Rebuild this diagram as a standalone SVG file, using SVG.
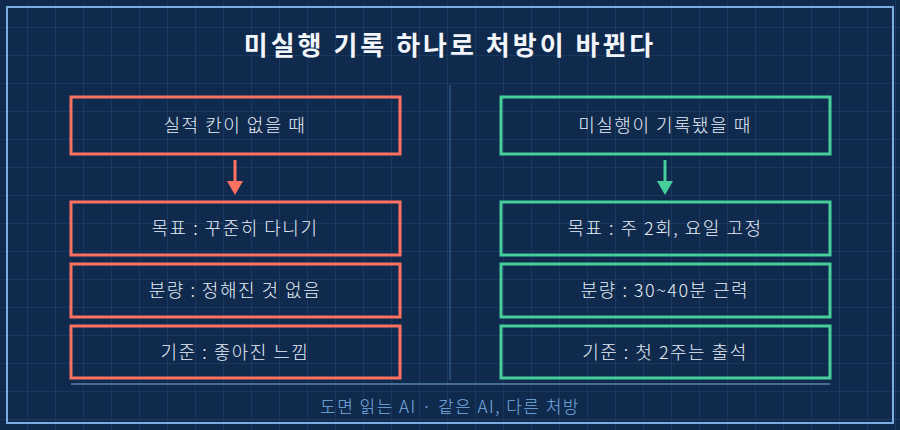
<svg xmlns="http://www.w3.org/2000/svg" width="900" height="430" viewBox="0 0 900 430">
<defs>
<pattern id="grid" width="28" height="28" patternUnits="userSpaceOnUse"><path d="M28 0V28M0 28H28" fill="none" stroke="#24446f" stroke-width="1"/></pattern>
<style>
text{font-family:"Noto Sans CJK KR","Noto Sans",sans-serif;text-anchor:middle}
.t{fill:#e8eef8;font-size:18px;font-weight:300;letter-spacing:1.5px}
.l{fill:none;stroke:#ff7262;stroke-width:3}
.r{fill:none;stroke:#46cf9b;stroke-width:3}
</style>
</defs>
<rect width="900" height="430" fill="#0f2a4d"/>
<rect width="900" height="430" fill="url(#grid)"/>
<rect x="7" y="7" width="886" height="416" fill="none" stroke="#7aaee0" stroke-width="2"/>
<text x="450" y="55" fill="#f2f5fa" font-size="26" font-weight="bold" letter-spacing="3">미실행 기록 하나로 처방이 바뀐다</text>
<line x1="450" y1="85" x2="450" y2="380" stroke="#2f5384" stroke-width="1.5"/>
<g id="connectors">
<line x1="235" y1="160" x2="235" y2="184" stroke="#ff7262" stroke-width="3"/><path d="M227 181H243L235 195Z" fill="#ff7262"/>
<line x1="665" y1="160" x2="665" y2="184" stroke="#46cf9b" stroke-width="3"/><path d="M657 181H673L665 195Z" fill="#46cf9b"/>
</g>
<g id="l1"><rect class="l" x="71" y="97" width="329" height="57"/><text class="t" x="235" y="132">실적 칸이 없을 때</text></g>
<g id="l2"><rect class="l" x="71" y="202" width="329" height="53"/><text class="t" x="235" y="235">목표 : 꾸준히 다니기</text></g>
<g id="l3"><rect class="l" x="71" y="264" width="329" height="53"/><text class="t" x="235" y="297">분량 : 정해진 것 없음</text></g>
<g id="l4"><rect class="l" x="71" y="326" width="329" height="52"/><text class="t" x="235" y="359">기준 : 좋아진 느낌</text></g>
<g id="r1"><rect class="r" x="501" y="97" width="329" height="57"/><text class="t" x="665" y="132">미실행이 기록됐을 때</text></g>
<g id="r2"><rect class="r" x="501" y="202" width="329" height="53"/><text class="t" x="665" y="235">목표 : 주 2회, 요일 고정</text></g>
<g id="r3"><rect class="r" x="501" y="264" width="329" height="53"/><text class="t" x="665" y="297">분량 : 30~40분 근력</text></g>
<g id="r4"><rect class="r" x="501" y="326" width="329" height="52"/><text class="t" x="665" y="359">기준 : 첫 2주는 출석</text></g>
<line x1="71" y1="384" x2="830" y2="384" stroke="#7aaee0" stroke-width="1"/>
<text x="450" y="413" fill="#7aaee0" font-size="17" font-weight="300" letter-spacing="1.5">도면 읽는 AI · 같은 AI, 다른 처방</text>
</svg>
